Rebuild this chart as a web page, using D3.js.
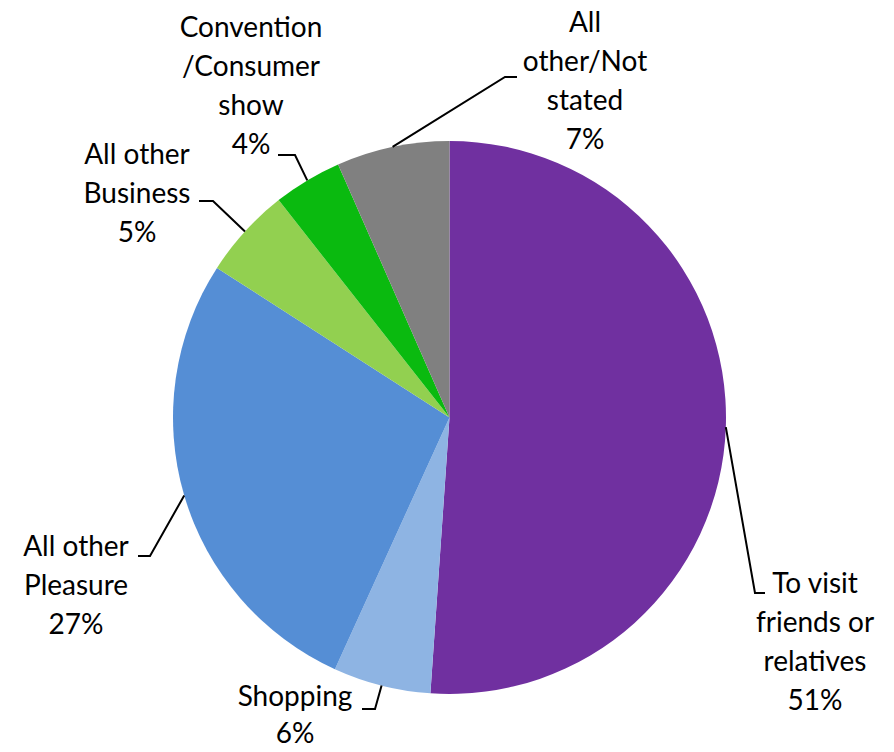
<!DOCTYPE html>
<html>
<head>
<meta charset="utf-8">
<script src="https://cdn.jsdelivr.net/npm/d3@7"></script>
<style>
  html, body { margin: 0; padding: 0; background: #fff; }
  svg { display: block; }
</style>
</head>
<body>
<svg id="chart" width="894" height="752"></svg>
<script>
// ---- data ----
const categories = ["To visit friends or relatives", "Shopping", "All other Pleasure", "All other Business", "Convention /Consumer show", "All other/Not stated"];
const values = [51.1, 5.7, 27.3, 5.3, 4.0, 6.6];
const labelLines = [
  ["To visit", "friends or", "relatives"],
  ["Shopping"],
  ["All other", "Pleasure"],
  ["All other", "Business"],
  ["Convention", "/Consumer", "show"],
  ["All", "other/Not", "stated"]
];
const colors = ["#7030A0", "#8EB4E3", "#558ED5", "#92D050", "#0ABA0F", "#808080"];

// ---- layout (label anchors / leader elbows) ----
const cx = 449.5, cy = 417.5, R = 276.5;
const lineH = 39;
const labelLayout = [
  { x: 815, y: 593, elbow: [755, 593], end: [765, 593] },
  { x: 295, y: 706, elbow: [375, 709], end: [362, 709] },
  { x: 76,  y: 556, elbow: [150, 556], end: [138, 556] },
  { x: 137, y: 164, elbow: [213, 201], end: [199, 201] },
  { x: 251, y: 37,  elbow: [295, 155], end: [278, 155] },
  { x: 585, y: 32,  elbow: [505, 77],  end: [517, 77] }
];

const svg = d3.select("#chart");
const g = svg.append("g").attr("transform", `translate(${cx},${cy})`);

const pie = d3.pie().sort(null).value(d => d);
const arcs = pie(values);
const arc = d3.arc().innerRadius(0).outerRadius(R);

g.selectAll("path.slice")
  .data(arcs)
  .enter().append("path")
  .attr("class", "slice")
  .attr("d", arc)
  .attr("fill", (d, i) => colors[i]);

// leader lines
const total = d3.sum(values);
arcs.forEach((a, i) => {
  const mid = (a.startAngle + a.endAngle) / 2;
  const sx = cx + R * Math.sin(mid), sy = cy - R * Math.cos(mid);
  const L = labelLayout[i];
  svg.append("polyline")
    .attr("points", `${sx},${sy} ${L.elbow[0]},${L.elbow[1]} ${L.end[0]},${L.end[1]}`)
    .attr("fill", "none")
    .attr("stroke", "#000")
    .attr("stroke-width", 2);
});

// labels
const fmt = v => Math.round(v / total * 100) + "%";
arcs.forEach((a, i) => {
  const L = labelLayout[i];
  const lines = labelLines[i].concat([fmt(values[i])]);
  const t = svg.append("text")
    .attr("text-anchor", "middle")
    .attr("font-family", "Lato, 'Open Sans', sans-serif")
    .attr("font-size", 28)
    .attr("fill", "#000");
  lines.forEach((ln, k) => {
    t.append("tspan").attr("x", L.x).attr("y", L.y + k * (k === lines.length - 1 && i === 1 ? 37 : lineH)).text(ln);
  });
});
</script>
</body>
</html>
